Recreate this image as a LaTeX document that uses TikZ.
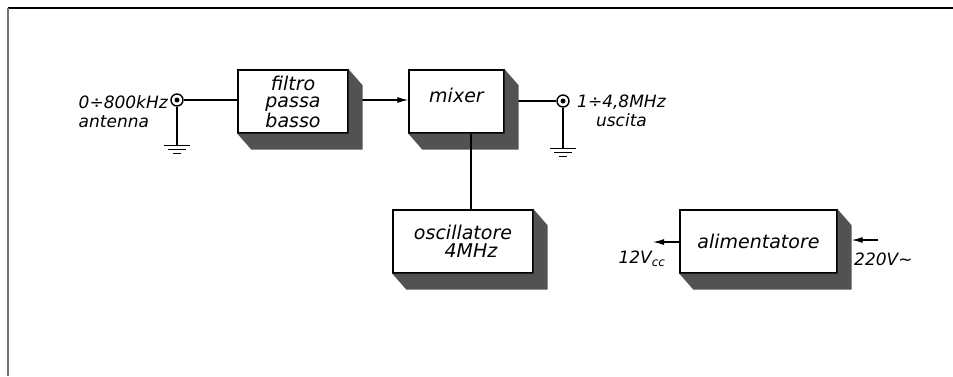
\documentclass[tikz,border=0pt]{standalone}
\usepackage{fontspec}
\setmainfont{DejaVu Sans}
\usetikzlibrary{arrows.meta}

\tikzset{
  blocco/.style={draw,fill=white,line width=1.3pt,inner sep=0pt,align=center,
    font=\itshape\fontsize{19}{17.5}\selectfont},
  ombra/.style={fill=black!68},
  filo/.style={line width=1.2pt},
  freccia/.style={filo,-{Latex[length=11pt,width=6pt]}},
  etichetta/.style={font=\itshape\fontsize{17}{19}\selectfont,inner sep=0pt,align=left},
  presa/.style={circle,draw,line width=1.4pt,minimum size=12pt,inner sep=0pt},
}
\newcommand\massa[1]{%
  \draw[filo] (#1) ++(-13,0) -- ++(26,0) ++(-22,4) -- ++(18,0) ++(-13,4) -- ++(8,0);}

\begin{document}
\begin{tikzpicture}[x=1pt,y=-1pt]
  \useasboundingbox (0,0) rectangle (953,376);
  % cornice
  \draw[line width=1.5pt] (8,8) -- (953,8);
  \draw[line width=1.2pt,black!55] (8,8) -- (8,376);

  % blocchi
  \node[blocco,minimum width=110pt,minimum height=63pt] (filtro) at (293,101.5) {filtro\\passa\\basso};
  \node[blocco,minimum width=95pt,minimum height=63pt] (mixer) at (456.5,101.5) {\raisebox{12pt}{mixer}};
  \node[blocco,minimum width=140pt,minimum height=63pt] (osc) at (463,241.5) {oscillatore\\\hspace*{16pt}4MHz};
  \node[blocco,minimum width=157pt,minimum height=63pt] (alim) at (758.5,241.5) {alimentatore};

  % prese
  \node[presa] (antin) at (177,100) {};
  \fill (antin) circle (2.5);
  \node[etichetta,anchor=north east] (antlab) at (168,95) {0÷800kHz\\antenna};
  \node[presa] (antout) at (563,101) {};
  \fill (antout) circle (2.5);
  \node[etichetta,align=center,anchor=north west] (uslab) at (577,95) {1÷4,8MHz\\uscita};

  % collegamenti
  \draw[filo] (antin.east) -- (antin.east -| filtro.west);
  \draw[freccia] (antin -| filtro.east) -- (antin -| mixer.west);
  \draw[filo] (mixer.east |- antout) -- (antout.west);
  \draw[filo] (antin.south) -- ++(0,39) coordinate (gin);
  \massa{gin}
  \draw[filo] (antout.south) -- ++(0,41) coordinate (gout);
  \massa{gout}

  % alimentazione
  \coordinate (v12) at (653,242);
  \draw[freccia] (alim.west |- v12) -- (v12);
  \node[etichetta] (v12lab) at (642,259) {12V\textsubscript{cc}};
  \coordinate (r220) at (878,240);
  \coordinate (a220) at ([xshift=14pt]alim.east);
  \draw[freccia] (r220) -- (r220 -| a220);
  \node[etichetta,anchor=west] (v220lab) at (854,259) {220V\textasciitilde};

  % ombre
  \foreach \b in {filtro,mixer,osc,alim}
    \fill[ombra] (\b.north east) -- ++(14,16) -- ([shift={(14,16)}]\b.south east)
      -- ([shift={(14,16)}]\b.south west) -- (\b.south west) -- (\b.south east) -- cycle;

  \coordinate (pil) at ([xshift=8pt]osc.north);
  \draw[filo] (pil) -- (pil |- mixer.south);
\end{tikzpicture}
\end{document}
